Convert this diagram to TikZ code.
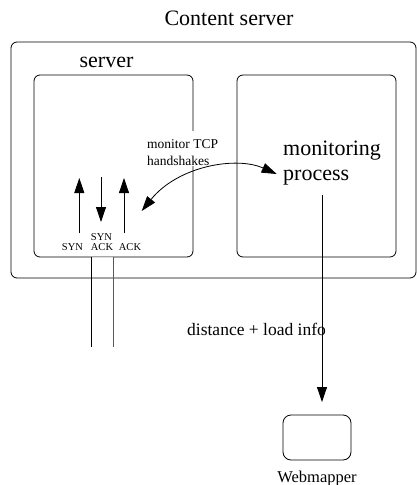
\documentclass[tikz,border=0pt]{standalone}
\usepackage{fontspec}
\setmainfont{Liberation Serif}
\usetikzlibrary{arrows.meta}

\tikzset{
  box/.style={draw, line width=0.8pt, rounded corners=6pt, inner sep=0pt, outer sep=0pt},
  head/.tip={Triangle[length=15pt,width=10pt]},
  arr/.style={line width=0.8pt, -head},
  biarr/.style={line width=0.8pt, head-head},
  wire/.style={line width=0.8pt},
  big/.style={font=\fontsize{22}{25}\selectfont, inner sep=0pt},
  mid/.style={font=\fontsize{17.5}{20}\selectfont, inner sep=0pt},
  small/.style={font=\fontsize{13.5}{16}\selectfont, inner sep=0pt},
  tiny/.style={font=\fontsize{10.5}{12}\selectfont, inner sep=0pt}
}

\begin{document}
\begin{tikzpicture}[x=1pt, y=-1pt]
  \useasboundingbox (0,0) rectangle (417,485);

  % boxes
  \node[box, minimum width=405pt, minimum height=236pt] (outer) at (213.5,160) {};
  \node[box, minimum width=159pt, minimum height=182pt] (srv) at (113.5,166) {};
  \node[box, minimum width=159pt, minimum height=182pt] (mon) at (316.5,166) {};
  \node[box, rounded corners=8pt, minimum width=68pt, minimum height=45pt] (web) at (317,437.5) {};

  % gap in the server box behind the handshake label
  \draw[white, line width=2.5pt] (193,131) -- (193,166);

  % titles
  \node[big, anchor=base] (title) at (229,25) {Content server};
  \node[big, anchor=base] (srvlabel) at (106.5,67) {server};
  \node[big, anchor=base west] (mon1) at (283,155) {monitoring};
  \node[big, anchor=base west] (mon2) at (283,180) {process};
  \node[small, anchor=base west] (hs1) at (147,148) {monitor TCP};
  \node[small, anchor=base west] (hs2) at (147,165) {handshakes};
  \node[mid, anchor=base west] (dist) at (187,335) {distance + load info};
  \node[font=\fontsize{16.5}{19}\selectfont, inner sep=0pt, anchor=base] (weblabel) at (317,482) {Webmapper};

  % handshake packets
  \coordinate (synA) at (79.3,233);  \coordinate (synB) at (79.3,178);
  \coordinate (saA) at (101,177);    \coordinate (saB) at (101,222);
  \coordinate (ackA) at (124,233);   \coordinate (ackB) at (124,178);
  \draw[arr] (synA) -- (synB);
  \draw[arr] (saA) -- (saB);
  \draw[arr] (ackA) -- (ackB);
  \node[tiny, anchor=base] (syn) at (72.5,250.5) {SYN};
  \node[tiny, anchor=base] (synack1) at (101.5,240.5) {SYN};
  \node[tiny, anchor=base] (synack2) at (102,250.5) {ACK};
  \node[tiny, anchor=base] (ack) at (130,250.5) {ACK};

  % monitoring link
  \coordinate (hsL) at (141.7,211);
  \coordinate (hsR) at (276.7,174);
  \draw[biarr] (hsL) .. controls (178,166) and (236,156) .. (hsR);

  % network wires leaving the server
  \coordinate (w1top) at (91,257);   \coordinate (w1bot) at (91,347);
  \coordinate (w2top) at (113,257);  \coordinate (w2bot) at (113,347);
  \draw[gray!25, line width=1pt] (w1top) -- (w2top);
  \draw[wire] (w1top) -- (w1bot);
  \draw[wire, black!65] (w2top) -- (w2bot);

  % report to the webmapper
  \coordinate (mpout) at (322,195);
  \draw[arr, shorten >=13pt] (mpout) -- (mpout |- web.north);
\end{tikzpicture}
\end{document}
